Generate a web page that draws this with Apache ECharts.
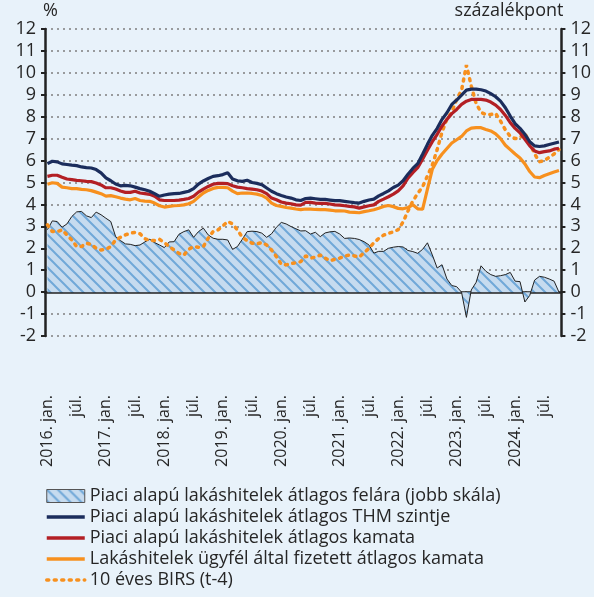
<!DOCTYPE html>
<html>
<head>
<meta charset="utf-8">
<script src="https://cdn.jsdelivr.net/npm/echarts@6/dist/echarts.min.js"></script>
<style>
  html, body { margin: 0; padding: 0; background: #e8f2fa; }
  #chart { width: 594px; height: 597px; }
</style>
</head>
<body>
<div id="chart"></div>
<script>
const years = [2016, 2017, 2018, 2019, 2020, 2021, 2022, 2023, 2024]
const monthNames = ['jan.', 'febr.', 'márc.', 'ápr.', 'máj.', 'jún.', 'júl.', 'aug.', 'szept.', 'okt.', 'nov.', 'dec.']
const lastMonth = 10 // 2024. okt.

const seriesNames = [
  'Piaci alapú lakáshitelek átlagos felára (jobb skála)',
  'Piaci alapú lakáshitelek átlagos THM szintje',
  'Piaci alapú lakáshitelek átlagos kamata',
  'Lakáshitelek ügyfél által fizetett átlagos kamata',
  '10 éves BIRS (t-4)'
]

// felár, százalékpont (jobb skála)
const spread = [
  2.85, 3.25, 3.22, 2.96, 3.11, 3.45, 3.66, 3.68, 3.48, 3.4,
  3.65, 3.53, 3.37, 3.22, 2.53, 2.35, 2.2, 2.18, 2.12, 2.15,
  2.29, 2.41, 2.26, 2.15, 2.03, 2.29, 2.3, 2.64, 2.76, 2.84,
  2.5, 2.76, 2.92, 2.61, 2.46, 2.41, 2.41, 2.38, 1.95, 2.08,
  2.41, 2.76, 2.78, 2.76, 2.69, 2.5, 2.66, 2.96, 3.18, 3.11,
  2.99, 2.89, 2.79, 2.8, 2.65, 2.73, 2.53, 2.7, 2.75, 2.77,
  2.65, 2.45, 2.47, 2.45, 2.4, 2.3, 2.15, 1.78, 1.86, 1.86,
  2.0, 2.05, 2.08, 2.06, 1.9, 1.85, 1.77, 1.95, 2.25, 1.7,
  1.1, 1.25, 0.6, 0.3, 0.25, 0.0, -1.15, 0.1, 0.45, 1.2,
  0.95, 0.8, 0.72, 0.75, 0.8, 0.9, 0.5, 0.48, -0.45, -0.15,
  0.55, 0.72, 0.68, 0.6, 0.5, 0.0
]

const thm = [
  5.86, 5.97, 5.94, 5.85, 5.82, 5.79, 5.77, 5.71, 5.68, 5.66,
  5.59, 5.44, 5.21, 5.08, 4.93, 4.85, 4.87, 4.85, 4.79, 4.72,
  4.67, 4.6, 4.49, 4.37, 4.43, 4.47, 4.49, 4.5, 4.55, 4.6,
  4.72, 4.93, 5.07, 5.18, 5.28, 5.31, 5.36, 5.44, 5.16, 5.08,
  5.05, 5.1, 5.0, 4.96, 4.9, 4.75, 4.6, 4.49, 4.41, 4.34,
  4.29, 4.21, 4.18, 4.27, 4.29, 4.26, 4.23, 4.23, 4.2, 4.17,
  4.17, 4.14, 4.11, 4.08, 4.06, 4.14, 4.2, 4.24, 4.39, 4.5,
  4.62, 4.77, 4.88, 5.08, 5.38, 5.64, 5.86, 6.29, 6.74, 7.15,
  7.47, 7.88, 8.18, 8.56, 8.76, 8.98, 9.21, 9.26, 9.26, 9.23,
  9.17, 9.05, 8.91, 8.71, 8.41, 8.03, 7.68, 7.47, 7.2, 6.86,
  6.67, 6.64, 6.67, 6.73, 6.79, 6.85
]

const rate = [
  5.28, 5.33, 5.33, 5.24, 5.16, 5.13, 5.1, 5.08, 5.05, 5.04,
  4.98, 4.89, 4.76, 4.76, 4.7, 4.61, 4.55, 4.55, 4.6, 4.52,
  4.49, 4.46, 4.37, 4.21, 4.18, 4.18, 4.18, 4.2, 4.23, 4.27,
  4.37, 4.56, 4.7, 4.82, 4.92, 4.96, 4.96, 4.95, 4.85, 4.79,
  4.76, 4.72, 4.7, 4.67, 4.61, 4.49, 4.29, 4.21, 4.11, 4.06,
  4.03, 3.98, 3.97, 4.09, 4.09, 4.06, 4.05, 4.05, 4.02, 3.98,
  3.97, 3.94, 3.91, 3.89, 3.83, 3.89, 3.94, 3.98, 4.14, 4.24,
  4.35, 4.47, 4.62, 4.85, 5.2, 5.45, 5.68, 6.06, 6.47, 6.86,
  7.2, 7.58, 7.88, 8.14, 8.33, 8.56, 8.71, 8.79, 8.79, 8.79,
  8.76, 8.67, 8.53, 8.33, 8.06, 7.73, 7.47, 7.27, 6.97, 6.67,
  6.44, 6.36, 6.41, 6.44, 6.52, 6.56
]

const clientRate = [
  4.92, 4.99, 4.96, 4.79, 4.76, 4.72, 4.72, 4.69, 4.67, 4.63,
  4.56, 4.49, 4.38, 4.4, 4.35, 4.29, 4.24, 4.21, 4.27, 4.18,
  4.15, 4.14, 4.06, 3.94, 3.88, 3.91, 3.94, 3.95, 3.98, 4.03,
  4.14, 4.34, 4.52, 4.64, 4.73, 4.78, 4.78, 4.76, 4.61, 4.49,
  4.52, 4.52, 4.5, 4.47, 4.41, 4.29, 4.06, 3.95, 3.91, 3.86,
  3.83, 3.79, 3.76, 3.79, 3.79, 3.77, 3.76, 3.76, 3.74, 3.71,
  3.71, 3.7, 3.65, 3.64, 3.62, 3.67, 3.71, 3.76, 3.83, 3.91,
  3.95, 3.9, 3.82, 3.8, 3.86, 3.98, 3.8, 3.78, 4.7, 5.6,
  6.0, 6.3, 6.55, 6.8, 6.95, 7.1, 7.35, 7.48, 7.5, 7.5,
  7.42, 7.35, 7.22, 7.0, 6.7, 6.5, 6.3, 6.12, 5.85, 5.5,
  5.25, 5.22, 5.32, 5.4, 5.48, 5.55
]

const birs = [
  3.07, 2.76, 2.76, 2.84, 2.61, 2.38, 2.08, 2.08, 2.23, 2.18,
  2.0, 1.92, 1.95, 2.08, 2.38, 2.5, 2.61, 2.69, 2.72, 2.66,
  2.44, 2.35, 2.35, 2.41, 2.26, 2.08, 1.92, 1.77, 1.69, 1.95,
  2.08, 2.05, 2.08, 2.46, 2.76, 2.84, 3.02, 3.22, 3.11, 2.84,
  2.5, 2.35, 2.23, 2.2, 2.26, 2.15, 1.92, 1.62, 1.27, 1.24,
  1.31, 1.34, 1.39, 1.65, 1.55, 1.6, 1.69, 1.55, 1.43, 1.5,
  1.55, 1.65, 1.69, 1.65, 1.6, 1.8, 2.0, 2.25, 2.45, 2.6,
  2.68, 2.75, 2.85, 3.2, 3.7, 4.15, 4.5, 4.8, 5.3, 5.8,
  6.5, 7.3, 7.9, 8.2, 8.8, 9.2, 10.35, 9.4, 8.6, 8.2,
  8.1, 8.1, 8.15, 7.8, 7.4, 7.1, 7.0, 7.05, 7.25, 6.8,
  6.3, 5.95, 6.0, 6.15, 6.3, 6.5
]

// kategóriák: "2016. jan.", "febr.", ...
const categories = []
years.forEach((y, yi) => {
  const n = yi === years.length - 1 ? lastMonth : 12
  for (let m = 0; m < n; m++) {
    categories.push(m === 0 ? y + '. ' + monthNames[m] : monthNames[m])
  }
})

// sraffozott kitöltés a felárhoz
const hatch = document.createElement('canvas')
hatch.width = 11
hatch.height = 11
const hc = hatch.getContext('2d')
hc.fillStyle = '#c6dbef'
hc.fillRect(0, 0, 11, 11)
hc.strokeStyle = '#70a8d8'
hc.lineWidth = 2
hc.beginPath()
hc.moveTo(-1, -1); hc.lineTo(12, 12)
hc.moveTo(-1, 10); hc.lineTo(1, 12)
hc.moveTo(10, -1); hc.lineTo(12, 1)
hc.stroke()
const hatchFill = { image: hatch, repeat: 'repeat' }

const font = '"Open Sans", sans-serif'
const textColor = '#262626'
const fs = 18

const chart = echarts.init(document.getElementById('chart'))

const hideDot = { opacity: 0 }

chart.setOption({
  backgroundColor: '#e8f2fa',
  animation: false,
  textStyle: { fontFamily: font },

  grid: {
    left: 45,
    right: 32,
    top: 29,
    bottom: 261
  },

  legend: {
    orient: 'vertical',
    left: 40,
    top: 482,
    itemWidth: 38,
    itemHeight: 13,
    itemGap: 3,
    textStyle: { fontSize: fs, color: textColor, fontFamily: font },
    lineStyle: { width: 3.5 },
    data: [
      { name: seriesNames[0], icon: 'rect', itemStyle: { color: hatchFill, borderColor: '#555', borderWidth: 1, opacity: 1 } },
      { name: seriesNames[1], itemStyle: hideDot },
      { name: seriesNames[2], itemStyle: hideDot },
      { name: seriesNames[3], itemStyle: hideDot },
      { name: seriesNames[4], itemStyle: hideDot }
    ]
  },

  xAxis: {
    type: 'category',
    data: categories,
    boundaryGap: true,
    axisLine: { onZero: true, lineStyle: { color: '#222', width: 2.5 } },
    axisTick: {
      interval: 1,
      length: 4,
      lineStyle: { color: '#222', width: 2 }
    },
    axisLabel: {
      interval: (i) => i % 6 === 0,
      rotate: 90,
      margin: 59,
      fontSize: 16,
      color: textColor,
      fontFamily: font
    },
    splitLine: { show: false }
  },

  yAxis: [
    {
      type: 'value',
      min: -2,
      max: 12,
      interval: 1,
      name: '%',
      nameGap: 9,
      nameTextStyle: { fontSize: fs, color: textColor, align: 'left', padding: [0, 0, 0, -2] },
      axisLine: { show: true, lineStyle: { color: '#222', width: 2.5 } },
      axisTick: { show: true, length: 4, lineStyle: { color: '#222', width: 2 } },
      axisLabel: { fontSize: fs, color: textColor, margin: 9 },
      splitLine: { show: true, lineStyle: { color: '#7f7f7f', width: 1.5, type: [2, 4] } }
    },
    {
      type: 'value',
      min: -2,
      max: 12,
      interval: 1,
      name: 'százalékpont',
      nameGap: 9,
      nameTextStyle: { fontSize: fs, color: textColor, align: 'right', padding: [0, -2, 0, 0] },
      axisLine: { show: true, lineStyle: { color: '#222', width: 2.5 } },
      axisTick: { show: true, length: 4, lineStyle: { color: '#222', width: 2 } },
      axisLabel: { fontSize: fs, color: textColor, margin: 9 },
      splitLine: { show: false }
    }
  ],

  series: [
    {
      name: seriesNames[0],
      type: 'line',
      yAxisIndex: 1,
      data: spread,
      symbol: 'none',
      lineStyle: { color: '#222', width: 1 },
      itemStyle: { color: '#70a8d8' },
      areaStyle: { color: hatchFill, opacity: 1 },
      z: 1
    },
    {
      name: seriesNames[4],
      type: 'line',
      data: birs,
      symbol: 'none',
      lineStyle: { color: '#f7901e', width: 3.5, type: [2, 5.5], cap: 'round' },
      itemStyle: { color: '#f7901e' },
      z: 2
    },
    {
      name: seriesNames[3],
      type: 'line',
      data: clientRate,
      symbol: 'none',
      lineStyle: { color: '#f7901e', width: 3.2 },
      itemStyle: { color: '#f7901e' },
      z: 3
    },
    {
      name: seriesNames[2],
      type: 'line',
      data: rate,
      symbol: 'none',
      lineStyle: { color: '#b31f24', width: 3.2 },
      itemStyle: { color: '#b31f24' },
      z: 4
    },
    {
      name: seriesNames[1],
      type: 'line',
      data: thm,
      symbol: 'none',
      lineStyle: { color: '#1b2d5c', width: 3.2 },
      itemStyle: { color: '#1b2d5c' },
      z: 5
    }
  ]
})
</script>
</body>
</html>
